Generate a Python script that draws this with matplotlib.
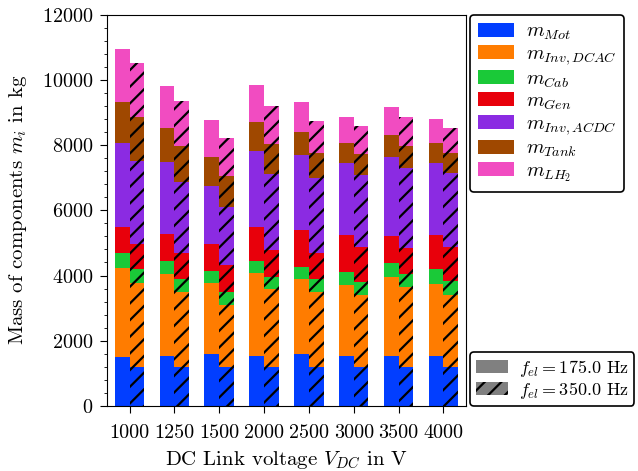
import numpy as np
import matplotlib
matplotlib.use("Agg")
import matplotlib.pyplot as plt
from matplotlib.patches import Patch
from matplotlib.ticker import MultipleLocator

plt.rcParams['font.family'] = 'serif'
plt.rcParams['font.serif'] = ['cmr10']
plt.rcParams['mathtext.fontset'] = 'cm'
plt.rcParams['axes.formatter.use_mathtext'] = True
plt.rcParams['axes.unicode_minus'] = False
plt.rcParams['hatch.linewidth'] = 1.6
plt.rcParams['font.size'] = 15

voltages = ["1000", "1250", "1500", "2000", "2500", "3000", "3500", "4000"]
labels = [r"$m_{Mot}$", r"$m_{Inv,DCAC}$", r"$m_{Cab}$", r"$m_{Gen}$",
          r"$m_{Inv,ACDC}$", r"$m_{Tank}$", r"$m_{LH_2}$"]
colors = ["#023eff", "#ff7c00", "#1ac938", "#e8000b", "#8b2be2", "#9f4800", "#f14cc1"]

# masses in kg, f_el = 175 Hz
m_175 = [
    [1500, 1530, 1580, 1530, 1580, 1530, 1530, 1530],  # Mot
    [2740, 2515, 2180, 2535, 2300, 2180, 2435, 2210],  # Inv,DCAC
    [440, 400, 390, 380, 390, 410, 430, 450],          # Cab
    [805, 815, 810, 1040, 1125, 1115, 815, 1045],      # Gen
    [2565, 2210, 1770, 2340, 2290, 2205, 2410, 2205],  # Inv,ACDC
    [1285, 1050, 910, 880, 725, 615, 685, 615],        # Tank
    [1605, 1300, 1135, 1125, 920, 795, 850, 755],      # LH2
]
# masses in kg, f_el = 350 Hz
m_350 = [
    [1200, 1200, 1200, 1200, 1200, 1200, 1200, 1200],
    [2565, 2280, 1900, 2380, 2280, 2205, 2440, 2205],
    [430, 410, 400, 380, 410, 390, 410, 440],
    [765, 795, 810, 810, 795, 1075, 785, 1020],
    [2555, 2195, 1790, 2350, 2310, 2220, 2455, 2270],
    [1360, 1105, 940, 920, 775, 645, 695, 615],
    [1655, 1380, 1175, 1165, 960, 840, 890, 765],
]

fig = plt.figure(figsize=(6.38, 4.71), dpi=100)
ax = fig.add_axes([0.168, 0.138, 0.562, 0.831])

x = np.arange(len(voltages))
w = 0.33
bottom_a = np.zeros(len(voltages))
bottom_b = np.zeros(len(voltages))
for i in range(len(labels)):
    ax.bar(x - w / 2, m_175[i], w, bottom=bottom_a, color=colors[i], linewidth=0)
    ax.bar(x + w / 2, m_350[i], w, bottom=bottom_b, color=colors[i], linewidth=0,
           hatch='//', edgecolor='black')
    bottom_a += np.array(m_175[i])
    bottom_b += np.array(m_350[i])

ax.set_xlim(-0.5, len(voltages) - 0.5)
ax.set_ylim(0, 12000)
ax.set_xticks(x)
ax.set_xticklabels(voltages)
ax.yaxis.set_minor_locator(MultipleLocator(400))
ax.tick_params(axis='both', which='major', labelsize=14.5, length=5, pad=5)
ax.tick_params(axis='x', which='major', pad=8)
ax.set_xlabel(r"DC Link voltage $V_{DC}$ in V", labelpad=5)
ax.set_ylabel(r"Mass of components $m_i$ in kg", labelpad=9)

handles = [Patch(facecolor=c, label=l) for c, l in zip(colors, labels)]
leg1 = ax.legend(handles=handles, loc='upper left', bbox_to_anchor=(1.013, 1.0),
                 fontsize=14.5, handlelength=1.75, handletextpad=0.6,
                 labelspacing=0.14, borderpad=0.4, borderaxespad=0, fancybox=True,
                 edgecolor='black', framealpha=1)
leg1.get_frame().set_linewidth(1.2)
ax.add_artist(leg1)

freq_handles = [Patch(facecolor='grey', linewidth=0, label=r"$f_{el} = 175.0$ Hz"),
                Patch(facecolor='grey', hatch='//', edgecolor='black', linewidth=0,
                      label=r"$f_{el} = 350.0$ Hz")]
leg2 = ax.legend(handles=freq_handles, loc='lower left', bbox_to_anchor=(1.013, 0.0),
                 fontsize=13, handlelength=1.8, handletextpad=0.6,
                 labelspacing=0.05, borderpad=0.3, borderaxespad=0, fancybox=True,
                 edgecolor='black', framealpha=1)
leg2.get_frame().set_linewidth(1.2)

fig.savefig("out.png", dpi=100)
